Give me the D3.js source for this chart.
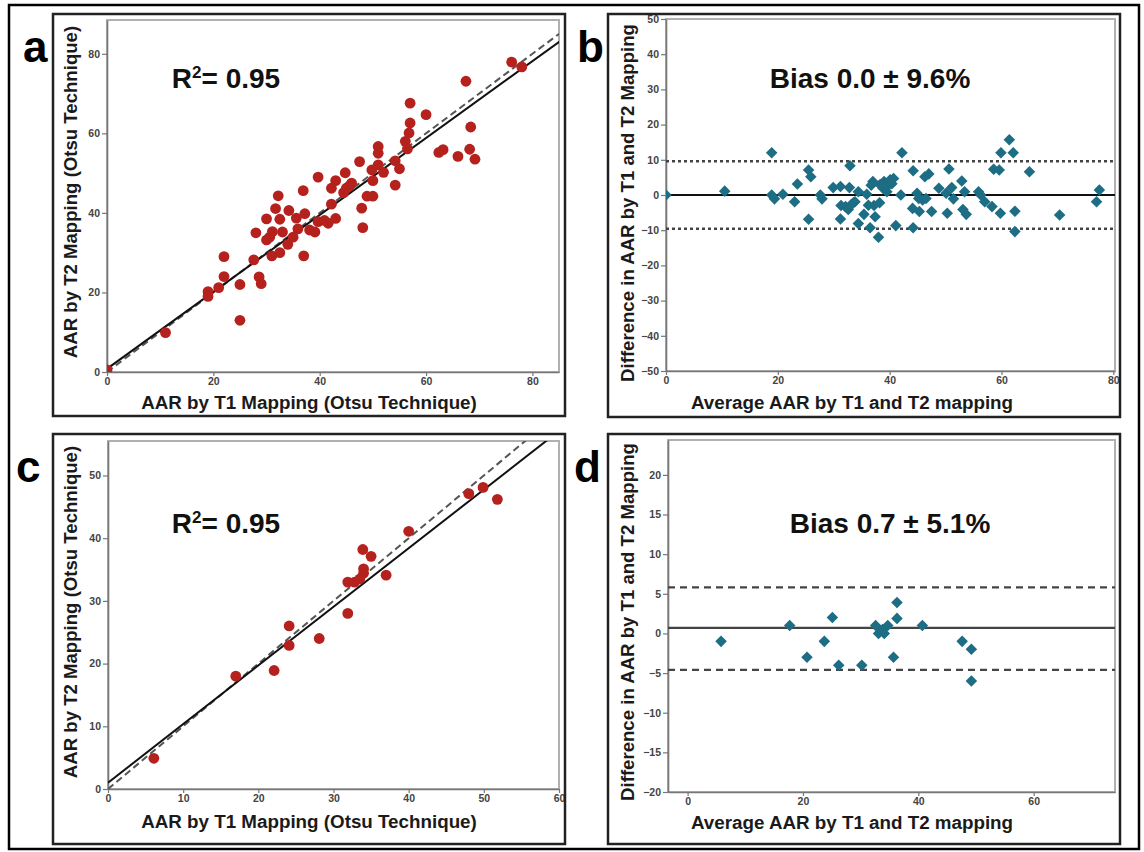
<!DOCTYPE html>
<html>
<head>
<meta charset="utf-8">
<script src="https://cdn.jsdelivr.net/npm/d3@7"></script>
<style>
  body { margin: 0; background: #fff; }
  text { font-family: "Liberation Sans", Arial, sans-serif; }
</style>
</head>
<body>
<svg id="fig"></svg>
<script>
// panel a: AAR by T1 vs T2 mapping (all patients)
const aT1 = [0, 11, 19, 19, 21, 22, 22, 25, 25, 27.6, 28, 28.6, 29, 30, 30, 30.6, 31, 31.1, 31.7, 32.2,
  32.5, 32.5, 33, 34.2, 34, 35, 35.6, 35.9, 36.9, 37, 37.2, 38.1, 39.1, 39.7, 39.7, 40.9, 41.6, 42.2, 42.2, 43,
  43, 44.8, 44.5, 45, 45.6, 46, 47.5, 47.9, 48.1, 48.9, 50, 50, 49.8, 51, 51, 51, 52, 54.2, 54.2, 55,
  56.1, 56.5, 56.8, 57, 57, 60, 62.4, 63.2, 66, 67.5, 68.2, 68.4, 69.2, 76.1, 78];
const aT2 = [0.5, 9.9, 20.2, 19, 21.2, 29, 24, 22, 13, 28.2, 35, 23.9, 22.2, 38.5, 33.2, 33.9, 29.2, 35.3, 41.1, 44.3,
  38.4, 30, 35.2, 40.6, 32.1, 33.9, 38.7, 36, 45.6, 29.2, 39.8, 35.7, 35.2, 49, 37.8, 38.1, 37.4, 42.2, 46.2, 48.1,
  38.6, 50.1, 45.1, 46.2, 46.8, 47.5, 52.9, 41.2, 36.3, 44.2, 44.2, 48.1, 50.8, 56.7, 55, 52.1, 50.2, 47, 53.1, 51.1,
  58, 56.1, 60.1, 62.6, 67.6, 64.7, 55.2, 55.9, 54.2, 73.1, 56, 61.6, 53.5, 77.9, 76.7];
const aFit = { intercept: 0.8, slope: 0.967 };

// panel b: Bland-Altman, all patients
const bAvg = [0, 10.5, 18.9, 18.9, 19.4, 20.9, 23.5, 23, 25.5, 25.9, 25.5, 27.6, 27.9, 29.9, 31.2, 32.9, 32.8, 31.3, 32.1, 32.6,
  33.1, 33.5, 31.2, 33.8, 34.4, 34.4, 35.4, 35.9, 36.5, 37, 36.7, 37.2, 37.4, 38, 38.2, 38.3, 39, 38.8, 39.7, 40.1,
  40.7, 39.5, 41.1, 42, 42.2, 44.2, 44.1, 44.2, 44.9, 45.2, 45.3, 45.9, 46.5, 46.3, 47, 47.5, 48.8, 50.1, 50.3, 50.6,
  51.1, 51.4, 52.9, 53.1, 53.7, 53.4, 55.9, 56.3, 57, 58.3, 58.6, 59.6, 59.9, 59.8, 61.4, 62.1, 62.4, 62.4, 65, 70.4,
  77.5, 77, 38.6, 39.3, 40.4, 36.2];
const bDiff = [0, 1.1, 12, 0, -1.1, 0.2, 3.1, -1.9, 7.1, 5.2, -6.9, 0, -1.1, 2.1, 2.4, 8.3, 2.1, -3, -3.3, -4.1,
  -2.8, -2.2, -6.8, -1.9, 0.9, -8.1, -5.5, 0.2, -9.3, 3.8, 2.8, -3, -6.2, -12, -2.2, 3, 3.8, 1.9, 3.3, 4.3,
  4.7, 0.9, -8.7, 0, 12, 6.9, -3.8, -9.3, 0.5, -1, -4.7, -1.4, -1, 5.2, 6, -4.7, 1.9, 0.5, -5.2, 7.4,
  2.1, -1.1, 4, -4.1, -5.5, 0.9, 0.9, 0, -1.9, -3.3, 7.3, 7.1, 12, -5.2, 15.7, 12, -4.6, -10.4, 6.6, -5.7,
  1.4, -1.9, 2.5, 2, 3.2, -2.9];
const bBias = 0.0;
const bLimits = [9.6, -9.6];

// panel c: subgroup
const cT1 = [6.1, 17, 22.1, 24.1, 24.1, 28.1, 31.9, 31.9, 32.8, 33.9, 34, 34, 35, 37, 40, 48, 49.9, 51.8, 33.5];
const cT2 = [4.9, 18, 18.9, 26, 22.9, 24, 28, 33, 33, 38.2, 35.1, 34.4, 37.1, 34.1, 41.1, 47.1, 48.1, 46.2, 33.5];
const cFit = { intercept: 1.0, slope: 0.935 };

// panel d: Bland-Altman, subgroup
const dAvg = [5.8, 17.7, 20.7, 23.7, 25.1, 26.2, 30.2, 32.6, 33.1, 34.1, 34.7, 35.7, 36.3, 36.3, 40.7, 47.6, 49.2, 49.2, 33.8];
const dDiff = [-1, 1, -3, -1, 2, -4, -4, 1, 0, 0, 1, -3, 1.9, 3.9, 1, -1, -2, -6, 0.5];
const dBias = 0.7;
const dLimits = [5.8, -4.6];

const aXTicks = [0, 20, 40, 60, 80], aYTicks = [0, 20, 40, 60, 80];
const bXTicks = [0, 20, 40, 60, 80], bYTicks = [-50, -40, -30, -20, -10, 0, 10, 20, 30, 40, 50];
const cXTicks = [0, 10, 20, 30, 40, 50, 60], cYTicks = [0, 10, 20, 30, 40, 50];
const dXTicks = [0, 20, 40, 60], dYTicks = [-20, -15, -10, -5, 0, 5, 10, 15, 20];

const W = 1144, H = 852;
const RED = '#b5211d', TEAL = '#1d6d85';

const svg = d3.select('#fig').attr('width', W).attr('height', H);

// outer border
svg.append('rect').attr('x', 9).attr('y', 5).attr('width', 1130).attr('height', 844)
  .attr('fill', 'none').attr('stroke', '#000').attr('stroke-width', 2.5);

let clipId = 0;

function panel(opt) {
  const g = svg.append('g');
  const p = opt.plot;
  const x = d3.scaleLinear().domain(opt.xDomain).range([p.l, p.r]);
  const y = d3.scaleLinear().domain(opt.yDomain).range([p.b, p.t]);

  // plot box
  g.append('rect').attr('x', p.l).attr('y', p.t).attr('width', p.r - p.l).attr('height', p.b - p.t)
    .attr('fill', 'none').attr('stroke', '#b0b0b0').attr('stroke-width', 2);

  const xAxis = g.append('g').attr('transform', `translate(0,${p.b})`)
    .call(d3.axisBottom(x).tickValues(opt.xTicks).tickSize(4).tickPadding(2).tickSizeOuter(0));
  const yAxis = g.append('g').attr('transform', `translate(${p.l},0)`)
    .call(d3.axisLeft(y).tickValues(opt.yTicks).tickSize(5).tickPadding(2).tickSizeOuter(0));
  [xAxis, yAxis].forEach(ax => {
    ax.select('.domain').attr('stroke', '#777').attr('stroke-width', 1.6);
    ax.selectAll('.tick line').attr('stroke', '#777').attr('stroke-width', 1.2);
    ax.selectAll('.tick text').attr('fill', '#444').attr('font-size', 10.5).attr('font-weight', 'bold')
      .attr('font-family', '"Liberation Sans", Arial, sans-serif');
  });

  const id = 'clip' + (clipId++);
  g.append('clipPath').attr('id', id).append('rect')
    .attr('x', p.l).attr('y', p.t).attr('width', p.r - p.l).attr('height', p.b - p.t);
  const inner = g.append('g').attr('clip-path', `url(#${id})`);

  opt.draw(inner, x, y);

  // axis titles
  g.append('text').attr('x', opt.xLabelPos[0]).attr('y', opt.xLabelPos[1])
    .attr('text-anchor', 'middle').attr('font-size', 18.8).attr('font-weight', 'bold').attr('fill', '#1a1a1a')
    .text(opt.xLabel);
  g.append('text')
    .attr('transform', `translate(${opt.yLabelPos[0]},${opt.yLabelPos[1]}) rotate(-90)`)
    .attr('text-anchor', 'middle').attr('font-size', 18.6).attr('font-weight', 'bold').attr('fill', '#1a1a1a')
    .text(opt.yLabel);

  // annotation
  const ann = g.append('text').attr('x', opt.annPos[0]).attr('y', opt.annPos[1])
    .attr('text-anchor', 'middle').attr('font-size', 28).attr('font-weight', 'bold').attr('fill', '#111');
  opt.annotate(ann);

  // panel frame and letter
  const f = opt.frame;
  g.append('rect').attr('x', f[0]).attr('y', f[1]).attr('width', f[2] - f[0]).attr('height', f[3] - f[1])
    .attr('fill', 'none').attr('stroke', '#222').attr('stroke-width', 2.5);
  g.append('text').attr('x', opt.letterPos[0]).attr('y', opt.letterPos[1])
    .attr('font-size', 44).attr('font-weight', 'bold').attr('fill', '#000')
    .text(opt.letter);
}

function scatterDraw(xs, ys, fit) {
  return (g, x, y) => {
    const xd = x.domain();
    g.append('line')
      .attr('x1', x(0)).attr('y1', y(0)).attr('x2', x(xd[1] * 1.2)).attr('y2', y(xd[1] * 1.2))
      .attr('stroke', '#555').attr('stroke-width', 2).attr('stroke-dasharray', '7,4');
    g.append('line')
      .attr('x1', x(0)).attr('y1', y(fit.intercept))
      .attr('x2', x(xd[1] * 1.2)).attr('y2', y(fit.intercept + fit.slope * xd[1] * 1.2))
      .attr('stroke', '#111').attr('stroke-width', 2);
    g.selectAll('circle').data(xs.map((v, i) => [v, ys[i]])).enter().append('circle')
      .attr('cx', d => x(d[0])).attr('cy', d => y(d[1])).attr('r', 5.4)
      .attr('fill', RED);
  };
}

function baDraw(avg, diff, bias, limits, limitDash, limitWidth, biasColor) {
  return (g, x, y) => {
    const xd = x.domain();
    limits.forEach(v => {
      g.append('line').attr('x1', x(xd[0])).attr('x2', x(xd[1])).attr('y1', y(v)).attr('y2', y(v))
        .attr('stroke', '#444').attr('stroke-width', limitWidth).attr('stroke-dasharray', limitDash);
    });
    g.append('line').attr('x1', x(xd[0])).attr('x2', x(xd[1])).attr('y1', y(bias)).attr('y2', y(bias))
      .attr('stroke', biasColor).attr('stroke-width', 2.2);
    const sym = d3.symbol().type(d3.symbolDiamond2).size(85);
    g.selectAll('path.pt').data(avg.map((v, i) => [v, diff[i]])).enter().append('path')
      .attr('class', 'pt').attr('d', sym)
      .attr('transform', d => `translate(${x(d[0])},${y(d[1])})`)
      .attr('fill', TEAL);
  };
}

function r2(t) {
  t.append('tspan').text('R');
  t.append('tspan').attr('font-size', 17).attr('dy', -10).text('2');
  t.append('tspan').attr('dy', 10).text('= 0.95');
}

panel({
  letter: 'a', letterPos: [23, 62], frame: [53, 14, 565, 416],
  plot: { l: 107, t: 20, r: 559, b: 372 },
  xDomain: [0, 85], yDomain: [0, 88.5], xTicks: aXTicks, yTicks: aYTicks,
  xLabel: 'AAR by T1 Mapping (Otsu Technique)', xLabelPos: [309, 409],
  yLabel: 'AAR by T2 Mapping (Otsu Technique)', yLabelPos: [77, 192],
  annPos: [226, 88], annotate: r2,
  draw: scatterDraw(aT1, aT2, aFit)
});

panel({
  letter: 'b', letterPos: [577, 62], frame: [608, 14, 1120, 417],
  plot: { l: 666, t: 19, r: 1115, b: 371 },
  xDomain: [0, 80.3], yDomain: [-50, 50], xTicks: bXTicks, yTicks: bYTicks,
  xLabel: 'Average AAR by T1 and T2 mapping', xLabelPos: [852, 409],
  yLabel: 'Difference in AAR by T1 and T2 Mapping', yLabelPos: [634, 203],
  annPos: [870, 88], annotate: t => t.text('Bias 0.0 \u00b1 9.6%'),
  draw: baDraw(bAvg, bDiff, bBias, bLimits, '3,3', 2.6, '#111')
});

panel({
  letter: 'c', letterPos: [16, 482], frame: [53, 434, 565, 844],
  plot: { l: 108, t: 441, r: 559, b: 789 },
  xDomain: [0, 60], yDomain: [0, 55.5], xTicks: cXTicks, yTicks: cYTicks,
  xLabel: 'AAR by T1 Mapping (Otsu Technique)', xLabelPos: [309, 828],
  yLabel: 'AAR by T2 Mapping (Otsu Technique)', yLabelPos: [77, 612],
  annPos: [226, 533], annotate: r2,
  draw: scatterDraw(cT1, cT2, cFit)
});

panel({
  letter: 'd', letterPos: [574, 482], frame: [608, 434, 1120, 844],
  plot: { l: 668, t: 440, r: 1115, b: 792 },
  xDomain: [-3.4, 74.1], yDomain: [-20, 24.4], xTicks: dXTicks, yTicks: dYTicks,
  xLabel: 'Average AAR by T1 and T2 mapping', xLabelPos: [852, 829],
  yLabel: 'Difference in AAR by T1 and T2 Mapping', yLabelPos: [634, 622],
  annPos: [890, 533], annotate: t => t.text('Bias 0.7 \u00b1 5.1%'),
  draw: baDraw(dAvg, dDiff, dBias, dLimits, '7,5', 2.2, '#444')
});
</script>
</body>
</html>
